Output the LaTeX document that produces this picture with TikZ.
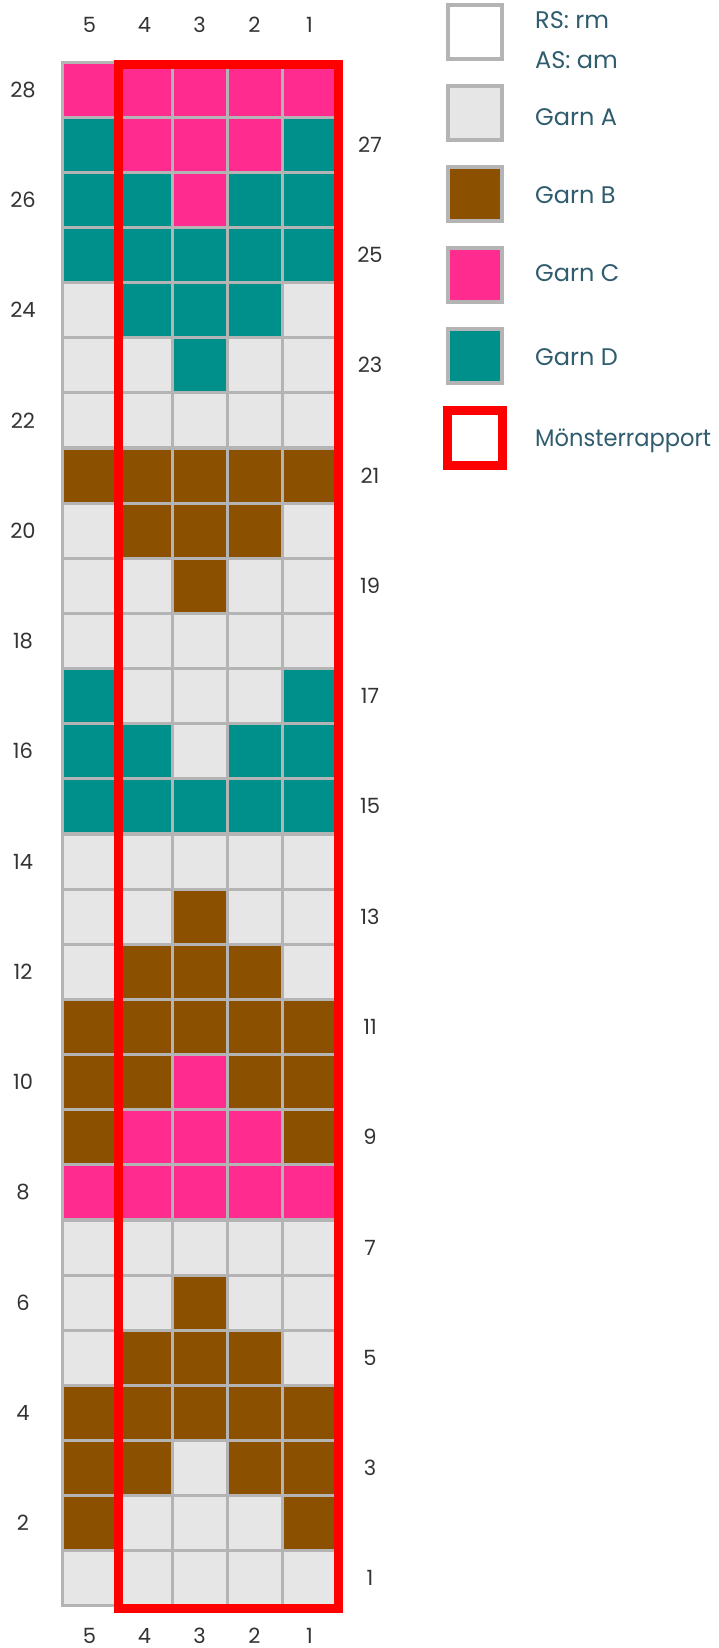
\documentclass[tikz,border=0pt]{standalone}
\usepackage{fontspec}
\setmainfont{Poppins}
\definecolor{garnA}{HTML}{E6E6E6}
\definecolor{garnB}{HTML}{8B5000}
\definecolor{garnC}{HTML}{FF2B8E}
\definecolor{garnD}{HTML}{00908B}
\definecolor{gridgrey}{HTML}{B4B4B4}
\definecolor{legtext}{HTML}{2F5D6E}
\definecolor{numtext}{HTML}{333333}
\newlength{\fitlen}
\newcommand{\fitwide}[2]{\settowidth{\fitlen}{#2}\pgfmathsetmacro{\fitfac}{#1/\fitlen}\scalebox{\fitfac}[1]{#2}}
\tikzset{
  cell/.style={draw=gridgrey, line width=3pt, minimum size=55pt, inner sep=0pt, outer sep=0pt},
  legbox/.style={draw=gridgrey, line width=4pt, minimum size=54pt, inner sep=0pt},
  repbox/.style={draw=red, line width=9pt},
  num/.style={text=numtext, font=\fontsize{21}{21}\selectfont, inner sep=0pt},
  legtxt/.style={text=legtext, font=\fontsize{24}{24}\selectfont, anchor=west, inner sep=0pt},
}
\begin{document}
\begin{tikzpicture}[x=1pt, y=-1pt]
\useasboundingbox (0,0) rectangle (718,1648);
% grid rows: row 28 first, left to right (col 5..1)
\foreach \r/\a/\b/\c/\d/\e [count=\k] in {
 28/C/C/C/C/C, 27/D/C/C/C/D, 26/D/D/C/D/D, 25/D/D/D/D/D,
 24/A/D/D/D/A, 23/A/A/D/A/A, 22/A/A/A/A/A, 21/B/B/B/B/B,
 20/A/B/B/B/A, 19/A/A/B/A/A, 18/A/A/A/A/A, 17/D/A/A/A/D,
 16/D/D/A/D/D, 15/D/D/D/D/D, 14/A/A/A/A/A, 13/A/A/B/A/A,
 12/A/B/B/B/A, 11/B/B/B/B/B, 10/B/B/C/B/B, 9/B/C/C/C/B,
 8/C/C/C/C/C, 7/A/A/A/A/A, 6/A/A/B/A/A, 5/A/B/B/B/A,
 4/B/B/B/B/B, 3/B/B/A/B/B, 2/B/A/A/A/B, 1/A/A/A/A/A} {
  \pgfmathsetmacro{\yy}{62+(\k-0.5)*55.14}
  \foreach \col/\cc [count=\i] in {5/\a,4/\b,3/\c,2/\d,1/\e} {
    \node[cell, fill=garn\cc] (c-\r-\col) at ({62+(\i-0.5)*55}, \yy) {};
  }
  \ifodd\r
    \node[num] (rl-\r) at (370, \yy) {\r};
  \else
    \node[num] (rl-\r) at (23, \yy) {\r};
  \fi
}
% column labels
\foreach \col [count=\i] in {5,4,3,2,1} {
  \node[num] (ct-\col) at ({62+(\i-0.5)*55}, 25) {\col};
  \node[num] (cb-\col) at ({62+(\i-0.5)*55}, 1636) {\col};
}
% pattern repeat
\node[repbox, minimum width=220pt, minimum height=1544pt, inner sep=0pt] (rep) at (228.5, 836.5) {};
% legend
\node[legbox, fill=white] (l0) at (474.5, 32) {};
\node[legbox, fill=garnA] (lA) at (474.5, 113) {};
\node[legbox, fill=garnB] (lB) at (474.5, 194) {};
\node[legbox, fill=garnC] (lC) at (474.5, 275) {};
\node[legbox, fill=garnD] (lD) at (474.5, 356) {};
\node[repbox, fill=white, minimum size=55pt, inner sep=0pt] (lR) at (475, 438) {};
\node[legtxt] (t0a) at (535, 20) {RS: rm};
\node[legtxt] (t0b) at (535, 60) {AS: am};
\node[legtxt] (tA) at (535, 117) {Garn A};
\node[legtxt] (tB) at (535, 195) {Garn B};
\node[legtxt] (tC) at (535, 273) {Garn C};
\node[legtxt] (tD) at (535, 357) {Garn D};
\node[legtxt] (tR) at (535, 441) {\fitwide{176pt}{Mönsterrapport}};
\end{tikzpicture}
\end{document}
